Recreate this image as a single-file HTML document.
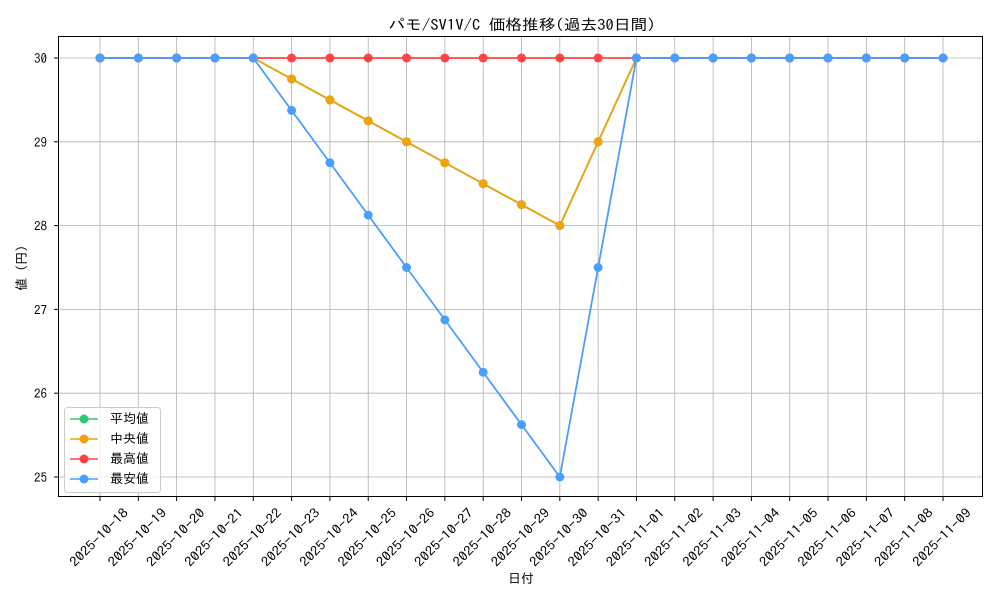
<!DOCTYPE html>
<html><head><meta charset="utf-8">
<style>
body{margin:0;background:#fff;}
svg text{font-family:"IPAGothic","Noto Sans CJK JP","Liberation Sans",sans-serif;fill:#000;}
</style></head><body>
<svg id="s" width="1000" height="600" xmlns="http://www.w3.org/2000/svg">
<rect width="1000" height="600" fill="#fff"/>
<g id="grid"></g>
<g id="series"></g>
<rect x="58.5" y="36.5" width="924" height="460" fill="none" stroke="#000" stroke-width="1"/>
<g id="ticks"></g>
<text x="522" y="30" font-size="15" text-anchor="middle" textLength="267" lengthAdjust="spacingAndGlyphs">パモ/SV1V/C 価格推移(過去30日間)</text>
<text x="521" y="583" font-size="13" text-anchor="middle">日付</text>
<text transform="translate(26,268) rotate(-90)" font-size="13" text-anchor="middle">値 (円)</text>
<g>
<rect x="64.5" y="407.5" width="96" height="85" rx="3" fill="#fff" fill-opacity="0.8" stroke="#ccc"/>
<line x1="70" y1="419" x2="98" y2="419" stroke="#2ecc71" stroke-width="1.5"/><circle cx="84" cy="419" r="4.5" fill="#2ecc71"/>
<text x="110" y="423" font-size="13">平均値</text>
<line x1="70" y1="439" x2="98" y2="439" stroke="#f0a30a" stroke-width="1.5"/><circle cx="84" cy="439" r="4.5" fill="#f0a30a"/>
<text x="110" y="443" font-size="13">中央値</text>
<line x1="70" y1="459" x2="98" y2="459" stroke="#ff4444" stroke-width="1.5"/><circle cx="84" cy="459" r="4.5" fill="#ff4444"/>
<text x="110" y="463" font-size="13">最高値</text>
<line x1="70" y1="479" x2="98" y2="479" stroke="#4a9eff" stroke-width="1.5"/><circle cx="84" cy="479" r="4.5" fill="#4a9eff"/>
<text x="110" y="483" font-size="13">最安値</text>
</g>
</svg>
<script>
var NS="http://www.w3.org/2000/svg";
function el(t,a,p){var e=document.createElementNS(NS,t);for(var k in a)e.setAttribute(k,a[k]);document.getElementById(p).appendChild(e);return e;}
var X=function(i){return 100+i*843/22;},Y=function(v){return 58+(30-v)*83.8;};
var labels=[];for(var d=18;d<=31;d++)labels.push("2025-10-"+d);for(var d=1;d<=9;d++)labels.push("2025-11-0"+d);
for(var i=0;i<23;i++){var x=X(i);
el("line",{x1:x,y1:37,x2:x,y2:497,stroke:"#b0b0b0","stroke-width":0.8},"grid");
el("line",{x1:x,y1:497,x2:x,y2:501,stroke:"#000"},"ticks");
var t=el("text",{"font-size":13,"text-anchor":"middle",textLength:76,lengthAdjust:"spacingAndGlyphs",x:0,y:4.5,transform:"translate("+(x-1)+",537.5) rotate(-45)"},"ticks");t.textContent=labels[i];}
for(var v=25;v<=30;v++){var y=Y(v);
el("line",{x1:58,y1:y,x2:982,y2:y,stroke:"#b0b0b0","stroke-width":0.8},"grid");
el("line",{x1:54,y1:y,x2:58,y2:y,stroke:"#000"},"ticks");
var t=el("text",{"font-size":13,"text-anchor":"end",x:47,y:y+5},"ticks");t.textContent=v;}
var ones=function(){var a=[];for(var i=0;i<23;i++)a.push(30);return a;};
var med=ones(),low=ones();
[29.75,29.5,29.25,29,28.75,28.5,28.25,28,29].forEach(function(v,k){med[5+k]=v;});
[29.375,28.75,28.125,27.5,26.875,26.25,25.625,25,27.5].forEach(function(v,k){low[5+k]=v;});
var S=[[med,"#2ecc71"],[med,"#f0a30a"],[ones(),"#ff4444"],[low,"#4a9eff"]];
S.forEach(function(s){var pts=s[0].map(function(v,i){return X(i)+","+Y(v);}).join(" ");
el("polyline",{points:pts,fill:"none",stroke:s[1],"stroke-width":1.8},"series");
s[0].forEach(function(v,i){el("circle",{cx:X(i),cy:Y(v),r:4.5,fill:s[1]},"series");});});
</script>
</body></html>
